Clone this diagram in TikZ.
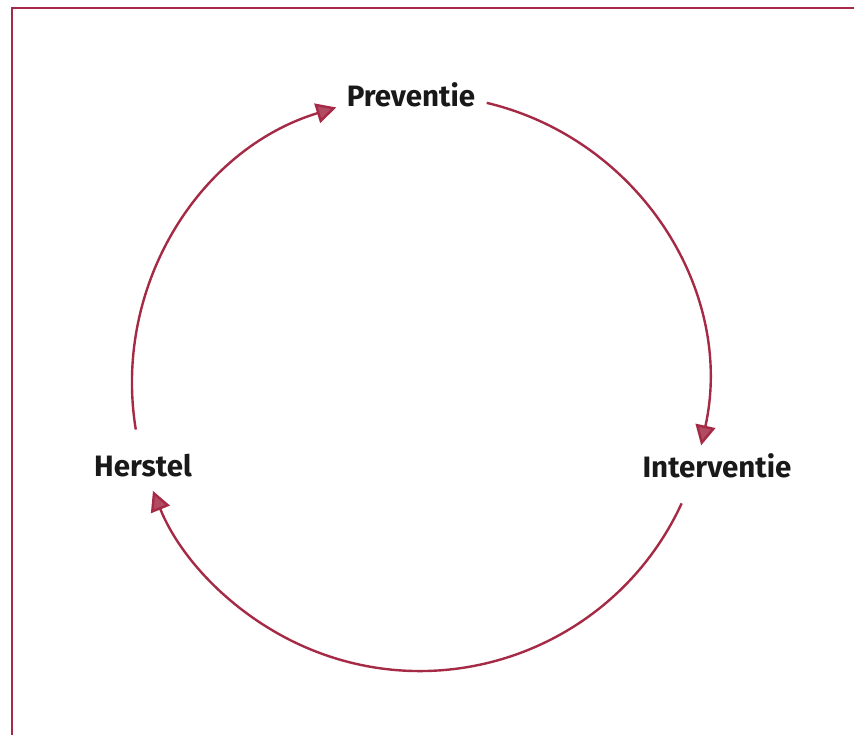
\documentclass[tikz,border=0pt]{standalone}
\usepackage{fontspec}
\setmainfont{Fira Sans}
\usetikzlibrary{arrows.meta}
\definecolor{cyc}{HTML}{A52A45}
\tikzset{
  lbl/.style={font=\fontsize{29.5}{34}\selectfont\bfseries, text=black!90, inner sep=0pt},
  cycarrow/.style={draw=cyc, line width=2.4pt, -{Triangle[length=20pt,width=20pt,fill=cyc!85!white]}},
  frame/.style={draw=cyc, line width=2pt}
}
\begin{document}
\begin{tikzpicture}[x=1pt,y=-1pt]
\useasboundingbox (0,0) rectangle (854,734);
\fill[white] (0,0) rectangle (854,734);
% frame (top and left edges)
\coordinate (ftr) at (856,8);
\coordinate (ftl) at (12,8);
\coordinate (fbl) at (12,736);
\draw[frame] (ftr) -- (ftl) -- (fbl);
% labels
\node[lbl] (prev) at (411,95) {Preventie};
\node[lbl] (herst) at (143,466) {Herstel};
\node[lbl] (interv) at (717,466) {Interventie};
% circle centre
\coordinate (c) at (420,383);
\draw[cycarrow] ([shift={(-76.6:288)}]c) arc[start angle=-76.6, end angle=12.5, radius=288];
\draw[cycarrow] ([shift={(24.7:288)}]c) arc[start angle=24.7, end angle=158, radius=288];
\draw[cycarrow] ([shift={(170.7:288)}]c) arc[start angle=170.7, end angle=253.1, radius=288];
\end{tikzpicture}
\end{document}
